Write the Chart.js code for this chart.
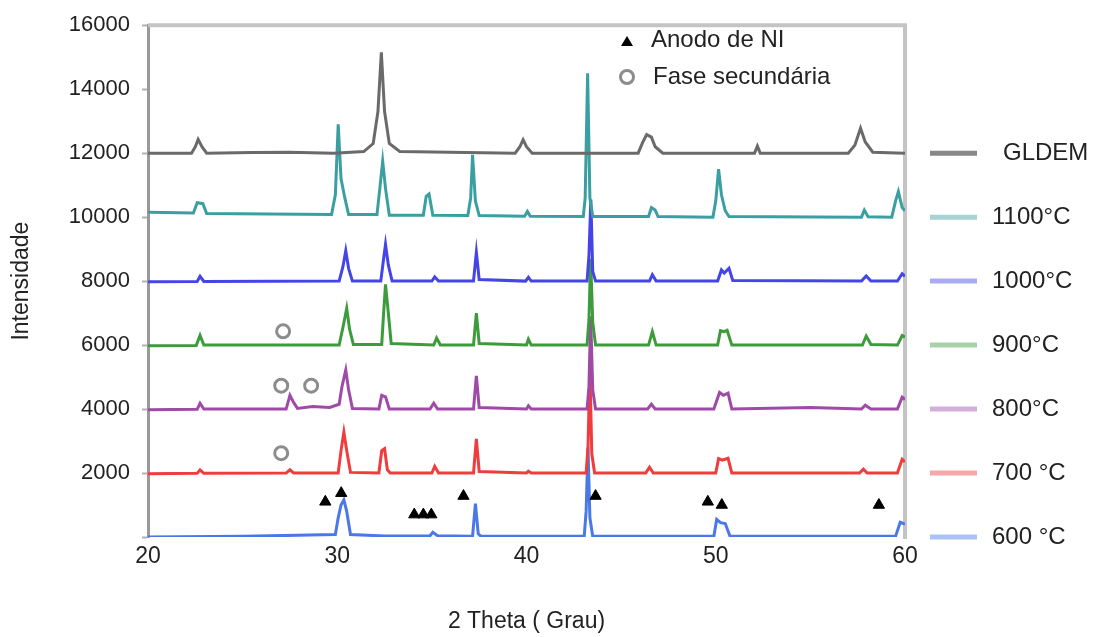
<!DOCTYPE html>
<html>
<head>
<meta charset="utf-8">
<script src="https://cdn.jsdelivr.net/npm/chart.js@4.4.0/dist/chart.umd.min.js"></script>
<style>
  html, body { margin: 0; padding: 0; background: #fff; }
</style>
</head>
<body>
<canvas id="xrdChart" width="1097" height="637"></canvas>
<script>
/////////////////////////////// DATA ///////////////////////////////
// each trace is a list of [2theta, intensity] pairs
const seriesLabels = ["GLDEM", "1100°C", "1000°C", "900°C", "800°C", "700 °C", "600 °C"];
const baselines = [12000, 10000, 8000, 6000, 4000, 2000, 0];
const xTicks = [20, 30, 40, 50, 60];
const yTicks = [2000, 4000, 6000, 8000, 10000, 12000, 14000, 16000];

const gldem = [
  [20, 12000], [22.3, 12000], [22.5, 12200], [22.65, 12430], [22.85, 12200], [23.1, 12000],
  [25.5, 12020], [27.5, 12030], [29.8, 12000], [31.4, 12050], [31.9, 12300], [32.15, 13300],
  [32.33, 15150], [32.5, 13300], [32.75, 12300], [33.3, 12050], [39.4, 12000], [39.65, 12200],
  [39.82, 12420], [40.0, 12200], [40.3, 12000], [45.9, 12000], [46.15, 12350], [46.35, 12580],
  [46.6, 12500], [46.8, 12200], [47.2, 12000], [52.05, 12000], [52.2, 12220], [52.35, 12000],
  [57.0, 12000], [57.35, 12250], [57.65, 12780], [57.9, 12350], [58.3, 12030], [60, 12000]
];
const t1100 = [
  [20, 10150], [22.4, 10130], [22.6, 10450], [22.9, 10420], [23.1, 10110], [29.7, 10080],
  [29.9, 10700], [30.05, 12900], [30.2, 11200], [30.4, 10600], [30.6, 10080], [32.1, 10080],
  [32.25, 10900], [32.4, 11750], [32.55, 10900], [32.75, 10060], [34.55, 10060], [34.7, 10650],
  [34.85, 10720], [35.05, 10060], [36.9, 10050], [37.05, 10600], [37.15, 11950], [37.3, 10500],
  [37.5, 10050], [39.9, 10030], [40.05, 10180], [40.2, 10030], [43.0, 10020], [43.1, 10600],
  [43.23, 14500], [43.35, 10600], [43.5, 10020], [46.45, 10020], [46.6, 10300], [46.8, 10220],
  [46.95, 10020], [49.85, 10000], [50.0, 10500], [50.15, 11500], [50.3, 10700], [50.5, 10200],
  [50.7, 10020], [57.7, 10000], [57.85, 10220], [58.05, 10010], [59.3, 10000], [59.5, 10500],
  [59.65, 10800], [59.85, 10300], [60, 10200]
];
const t1000 = [
  [20, 7980], [22.6, 7990], [22.75, 8150], [22.95, 7990], [30.1, 8000], [30.3, 8450],
  [30.45, 8950], [30.6, 8400], [30.8, 8000], [32.3, 8000], [32.45, 8700], [32.55, 9150],
  [32.7, 8500], [32.9, 8000], [35.0, 8000], [35.15, 8130], [35.35, 8000], [37.2, 8000],
  [37.35, 8900], [37.5, 8050], [39.95, 8000], [40.1, 8120], [40.25, 8000], [43.2, 8000],
  [43.3, 8800], [43.4, 10550], [43.5, 8300], [43.65, 8000], [46.5, 8000], [46.65, 8200],
  [46.85, 8000], [50.1, 8000], [50.3, 8350], [50.45, 8250], [50.7, 8400], [50.9, 8020],
  [57.7, 8000], [57.95, 8160], [58.2, 8000], [59.6, 8000], [59.85, 8230], [60, 8150]
];
const t900 = [
  [20, 5980], [22.55, 5990], [22.75, 6300], [22.95, 6000], [27.0, 6000], [30.1, 6000],
  [30.3, 6550], [30.5, 7150], [30.65, 6500], [30.85, 6020], [32.35, 6020], [32.45, 7000],
  [32.55, 7900], [32.7, 7000], [32.85, 6050], [35.1, 6000], [35.25, 6220], [35.45, 6000],
  [37.2, 6000], [37.35, 7000], [37.5, 6050], [40.0, 6000], [40.1, 6180], [40.25, 6000],
  [43.2, 6000], [43.3, 6800], [43.39, 8700], [43.5, 6700], [43.65, 6000], [46.45, 6000],
  [46.65, 6420], [46.85, 6000], [50.1, 6000], [50.25, 6450], [50.45, 6420], [50.6, 6460],
  [50.85, 6000], [57.75, 6000], [57.95, 6280], [58.2, 6020], [59.6, 6000], [59.85, 6300], [60, 6250]
];
const t800 = [
  [20, 3980], [22.6, 3990], [22.75, 4180], [22.95, 4000], [27.3, 4000], [27.5, 4430],
  [27.7, 4200], [27.9, 4020], [28.7, 4080], [29.6, 4050], [30.1, 4150], [30.25, 4700],
  [30.45, 5220], [30.6, 4600], [30.8, 4020], [32.2, 4000], [32.35, 4430], [32.55, 4380],
  [32.75, 4000], [34.9, 4000], [35.1, 4180], [35.3, 4000], [37.2, 4000], [37.35, 5040],
  [37.5, 4050], [40.0, 4000], [40.1, 4100], [40.25, 4000], [43.2, 4000], [43.3, 4700],
  [43.39, 6900], [43.5, 4600], [43.65, 4000], [46.4, 4000], [46.6, 4150], [46.8, 4000],
  [49.9, 4000], [50.2, 4520], [50.4, 4430], [50.65, 4500], [50.85, 4000], [55.0, 4050],
  [57.7, 4000], [57.9, 4120], [58.2, 4000], [59.6, 4000], [59.85, 4370], [60, 4300]
];
const t700 = [
  [20, 1980], [22.6, 1990], [22.75, 2100], [22.95, 1990], [27.3, 2000], [27.5, 2100],
  [27.7, 2000], [30.05, 2000], [30.2, 2700], [30.35, 3280], [30.5, 2700], [30.7, 2020],
  [32.2, 2000], [32.35, 2700], [32.5, 2760], [32.65, 2100], [32.8, 2000], [35.0, 2000],
  [35.15, 2210], [35.35, 2000], [37.2, 2000], [37.35, 3070], [37.5, 2050], [40.0, 2000],
  [40.1, 2060], [40.25, 2000], [43.15, 2000], [43.25, 2800], [43.35, 5250], [43.45, 2600],
  [43.6, 2000], [46.3, 2000], [46.5, 2180], [46.7, 2000], [50.0, 2000], [50.15, 2450],
  [50.35, 2400], [50.65, 2460], [50.85, 2000], [57.6, 2000], [57.8, 2120], [58.0, 2000],
  [59.6, 2000], [59.85, 2430], [60, 2350]
];
const t600 = [
  [20, 0], [25, 20], [28.5, 60], [29.9, 80], [30.05, 600], [30.2, 1000], [30.35, 1160],
  [30.5, 800], [30.7, 80], [32.5, 30], [34.9, 40], [35.05, 150], [35.3, 40], [37.15, 20],
  [37.3, 1040], [37.45, 100], [37.6, 20], [43.05, 20], [43.15, 800], [43.25, 2800],
  [43.35, 600], [43.5, 20], [49.9, 20], [50.05, 550], [50.25, 450], [50.5, 420], [50.75, 30],
  [59.5, 20], [59.75, 460], [60, 400]
];

// peak markers
const niAnode = [
  [29.37, 1100], [30.21, 1370], [34.07, 700], [34.55, 700], [34.97, 700], [36.67, 1280],
  [43.65, 1280], [49.58, 1100], [50.32, 1000], [58.62, 1000]
];
const secondaryPhase = [[27.14, 6430], [27.04, 4730], [28.62, 4730], [27.04, 2620]];

/////////////////////////////// COLORS ///////////////////////////////
const seriesColors = ["#6a6a6a", "#3a9fa0", "#4444e8", "#3c9c3c", "#a04aa8", "#f03c3c", "#4a78e6"];
const traces = [gldem, t1100, t1000, t900, t800, t700, t600];
const FONT = "'Liberation Sans', Arial, sans-serif";

const toXY = arr => arr.map(p => ({ x: p[0], y: p[1] }));

/////////////////////////////// PLUGINS ///////////////////////////////
// light grey frame on top and right of the plot
const frame = {
  id: "frame",
  beforeDatasetsDraw(chart) {
    const { ctx, chartArea: a } = chart;
    ctx.save();
    ctx.strokeStyle = "#c4c4c4";
    ctx.lineWidth = 4;
    ctx.beginPath();
    ctx.moveTo(a.left, a.top);
    ctx.lineTo(a.right, a.top);
    ctx.lineTo(a.right, a.bottom + 2);
    ctx.stroke();
    ctx.restore();
  }
};

// legends: series names on the right, marker keys inside the plot
const legends = {
  id: "legends",
  afterDraw(chart) {
    const ctx = chart.ctx;
    const yScale = chart.scales.y;
    ctx.save();
    ctx.font = "24px " + FONT;
    ctx.textBaseline = "middle";
    ctx.fillStyle = "#222";
    seriesLabels.forEach((name, i) => {
      const yy = yScale.getPixelForValue(baselines[i]);
      ctx.globalAlpha = i === 0 ? 0.8 : 0.45;
      ctx.strokeStyle = seriesColors[i];
      ctx.lineWidth = 5;
      ctx.beginPath();
      ctx.moveTo(930, yy);
      ctx.lineTo(977, yy);
      ctx.stroke();
      ctx.globalAlpha = 1;
      ctx.fillText(name, i === 0 ? 1003 : 992, yy);
    });

    // triangle key
    ctx.fillStyle = "#000";
    ctx.beginPath();
    ctx.moveTo(627, 36);
    ctx.lineTo(633, 46);
    ctx.lineTo(621, 46);
    ctx.closePath();
    ctx.fill();
    // circle key
    ctx.strokeStyle = "#8c8c8c";
    ctx.lineWidth = 3;
    ctx.fillStyle = "#fff";
    ctx.beginPath();
    ctx.arc(627, 77, 6.5, 0, Math.PI * 2);
    ctx.fill();
    ctx.stroke();

    ctx.fillStyle = "#222";
    ctx.fillText("Anodo de NI", 651, 40);
    ctx.fillText("Fase secundária", 653, 77);
    ctx.restore();
  }
};

/////////////////////////////// CHART ///////////////////////////////
const datasets = traces.map((t, i) => ({
  label: seriesLabels[i],
  data: toXY(t),
  borderColor: seriesColors[i],
  borderWidth: 3,
  pointRadius: 0,
  tension: 0,
  order: 1
}));

datasets.push({
  label: "Anodo de NI",
  data: toXY(niAnode),
  showLine: false,
  pointStyle: "triangle",
  pointRadius: 6.5,
  backgroundColor: "#000",
  borderColor: "#000",
  borderWidth: 1,
  order: 0
});
datasets.push({
  label: "Fase secundária",
  data: toXY(secondaryPhase),
  showLine: false,
  pointStyle: "circle",
  pointRadius: 6.5,
  backgroundColor: "#fff",
  borderColor: "#8c8c8c",
  borderWidth: 3,
  order: 0
});

const ctx = document.getElementById("xrdChart").getContext("2d");
const xrdChart = new Chart(ctx, {
  type: "line",
  data: { datasets: datasets },
  plugins: [frame, legends],
  options: {
    responsive: false,
    animation: false,
    layout: { padding: { top: 14, right: 192, bottom: 0, left: 0 } },
    plugins: {
      legend: { display: false },
      tooltip: { enabled: false }
    },
    scales: {
      x: {
        type: "linear",
        min: 20,
        max: 60,
        afterBuildTicks: scale => { scale.ticks = xTicks.map(v => ({ value: v })); },
        afterFit: scale => { scale.height = 100; },
        grid: { display: false, drawTicks: false },
        border: { display: false },
        ticks: { padding: 6, color: "#222", font: { family: FONT, size: 23 } },
        title: {
          display: true,
          text: "2 Theta ( Grau)",
          color: "#222",
          font: { family: FONT, size: 23 },
          padding: { top: 0, bottom: 2 }
        }
      },
      y: {
        min: 0,
        max: 16000,
        afterBuildTicks: scale => { scale.ticks = [0].concat(yTicks).map(v => ({ value: v })); },
        afterFit: scale => { scale.width = 148; },
        grid: { drawOnChartArea: false, tickLength: 6, tickColor: "#b0b0b0", tickWidth: 2 },
        border: { color: "#999", width: 3 },
        ticks: {
          padding: 12,
          color: "#222",
          font: { family: FONT, size: 22 },
          callback: v => (v === 0 ? "" : String(v))
        },
        title: {
          display: true,
          text: "Intensidade",
          color: "#222",
          font: { family: FONT, size: 23 },
          padding: { top: 8, bottom: 0 }
        }
      }
    }
  }
});
</script>
</body>
</html>
